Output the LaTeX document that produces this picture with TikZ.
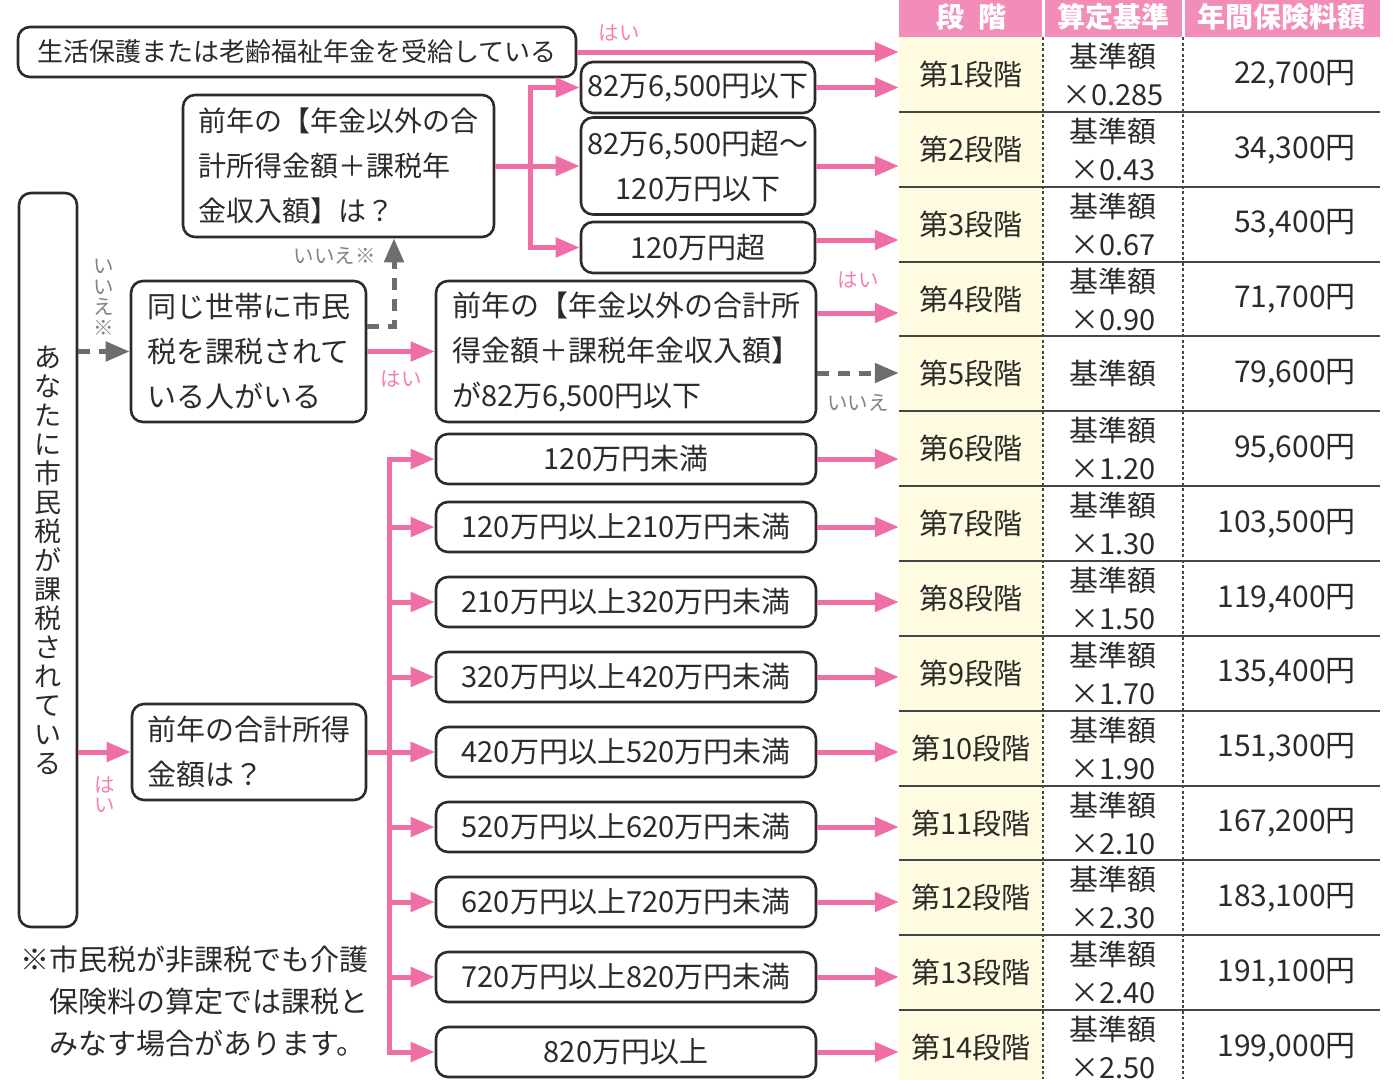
\documentclass[tikz,border=0pt]{standalone}
\usepackage{fontspec}
\setmainfont{Noto Sans CJK JP}
\usepackage{xcolor}
\usetikzlibrary{arrows.meta, positioning}
\definecolor{ink}{RGB}{45,42,42}
\definecolor{flowpink}{RGB}{238,110,165}
\definecolor{headpink}{RGB}{241,141,184}
\definecolor{labelpink}{RGB}{243,128,178}
\definecolor{flowgray}{RGB}{108,109,112}
\definecolor{labelgray}{RGB}{130,130,132}
\definecolor{stagebg}{RGB}{255,251,224}
\definecolor{rulegray}{RGB}{70,70,70}
\tikzset{
box/.style={draw=ink, line width=2.6pt, rounded corners=12pt, text=ink, inner sep=0pt, align=center, font=\fontsize{29}{45}\selectfont}, % rounded question boxes
yesarrow/.style={draw=flowpink, line width=5pt, -{Triangle[length=24pt,width=19pt]}}, % pink arrows
noarrow/.style={draw=flowgray, line width=5pt, dash pattern=on 12pt off 9pt, -{Triangle[length=24pt,width=19pt]}}, % gray dashed arrows
trunk/.style={draw=flowpink, line width=5pt, line cap=rect}, % vertical branch lines
yeslabel/.style={text=labelpink, font=\fontsize{20.5}{20.5}\selectfont, inner sep=0pt},
nolabel/.style={text=labelgray, font=\fontsize{20.5}{20.5}\selectfont, inner sep=0pt},
cell/.style={text=ink, font=\fontsize{29}{38}\selectfont, inner sep=0pt, align=center},
stage/.style={cell, fill=stagebg, minimum width=144pt, minimum height=74.85pt}, % yellow first column
headcell/.style={text=white, font=\fontsize{28}{28}\selectfont\bfseries, inner sep=0pt},
}
\begin{document}
\begin{tikzpicture}[x=1pt, y=-1pt]
    \useasboundingbox (0,0) rectangle (1397,1079);

    % table
    \fill[headpink] (899,0) rectangle (1380,37);
    \draw[white, line width=3pt] (1043,0) -- (1043,37) (1183,0) -- (1183,37);
    \node[headcell] (h1) at (971,17) {段\hspace{0.5em}階};
    \node[headcell] (h2) at (1113,17) {算定基準};
    \node[headcell] (h3) at (1281,17) {年間保険料額};
    \foreach \i/\r/\m in {1/{基準額\\×0.285}/{22,700円}, 2/{基準額\\×0.43}/{34,300円},
        3/{基準額\\×0.67}/{53,400円}, 4/{基準額\\×0.90}/{71,700円}, 5/{基準額}/{79,600円},
        6/{基準額\\×1.20}/{95,600円}, 7/{基準額\\×1.30}/{103,500円}, 8/{基準額\\×1.50}/{119,400円},
        9/{基準額\\×1.70}/{135,400円}, 10/{基準額\\×1.90}/{151,300円}, 11/{基準額\\×2.10}/{167,200円},
        12/{基準額\\×2.30}/{183,100円}, 13/{基準額\\×2.40}/{191,100円}, 14/{基準額\\×2.50}/{199,000円}} {
        \node[stage] (s\i) at (971,{37+(\i-0.5)*74.85}) {第\i{}段階};
        \node[cell] (r\i) at (1113,{37+(\i-0.5)*74.85}) {\r};
        \node[cell, anchor=east, font=\fontsize{30}{38}\selectfont] (m\i) at (1356,{37+(\i-0.5)*74.85}) {\m};
    }
    \foreach \i in {1,...,13}
        \draw[rulegray, line width=2pt] (899,{37+\i*74.85}) -- (1380,{37+\i*74.85});
    \draw[rulegray, line width=1.5pt, dash pattern=on 3pt off 2.5pt] (1043,37) -- (1043,1079) (1183,37) -- (1183,1079);

    % questions
    \node[box, minimum width=558pt, minimum height=50pt, font=\fontsize{26}{26}\selectfont] (top) at (297,52) {生活保護または老齢福祉年金を受給している};
    \node[box, minimum width=311pt, minimum height=142pt, align=left, font=\fontsize{28}{45}\selectfont] (q1) at (338.5,166) {前年の【年金以外の合\\計所得金額＋課税年\\金収入額】は？};
    \node[box, minimum width=234pt, minimum height=51pt] (a1) at (698,87.5) {82万6,500円以下};
    \node[box, minimum width=234pt, minimum height=97pt] (a2) at (698,166) {82万6,500円超～\\120万円以下};
    \node[box, minimum width=234pt, minimum height=51pt] (a3) at (698,247.5) {120万円超};
    \node[box, minimum width=58pt, minimum height=734pt, font=\fontsize{27}{29}\selectfont] (vbox) at (48,560) {あ\\な\\た\\に\\市\\民\\税\\が\\課\\税\\さ\\れ\\て\\い\\る};
    \node[box, minimum width=235pt, minimum height=141pt, align=left] (same) at (248.5,351.5) {同じ世帯に市民\\税を課税されて\\いる人がいる};
    \node[box, minimum width=380pt, minimum height=141pt, align=left] (q2) at (626,351.5) {前年の【年金以外の合計所\\得金額＋課税年金収入額】\\が82万6,500円以下};
    \node[box, minimum width=234pt, minimum height=96pt, align=left] (q3) at (249,752) {前年の合計所得\\金額は？};
    \node[text=ink, font=\fontsize{29}{42}\selectfont, align=left, anchor=west, inner sep=0pt] (note) at (20,1001) {※市民税が非課税でも介護\\\hspace*{1em}保険料の算定では課税と\\\hspace*{1em}みなす場合があります。};

    % upper branch
    \draw[yesarrow] (top) -- (top -| s1.west) node[yeslabel, pos=0.13, above=8pt] {はい};
    \coordinate (k1) at (530,166);
    \draw[trunk] (k1 |- a1) -- (k1 |- a3);
    \draw[yesarrow] (q1) -- (a2);
    \draw[yesarrow] (k1 |- a1) -- (a1);
    \draw[yesarrow] (k1 |- a3) -- (a3);
    \draw[yesarrow] (a1) -- (a1 -| s1.west);
    \draw[yesarrow] (a2) -- (a2 -| s2.west);
    \draw[yesarrow] ([yshift=7.5pt]a3.east) -- ([yshift=7.5pt]a3.east -| s3.west);

    \draw[noarrow] (vbox.east |- same) -- (same) node[nolabel, midway, above=14pt, align=center] {い\\い\\え\\※};
    \draw[noarrow] ([yshift=25.5pt]same.east) -| ([xshift=55.5pt]q1.south) node[nolabel, pos=0.9, left=16pt] {いいえ※};
    \draw[yesarrow] (same) -- (q2) node[yeslabel, midway, below=17pt] {はい};
    \draw[yesarrow] ([yshift=38.5pt]q2.east) -- ([yshift=38.5pt]q2.east -| s4.west) node[yeslabel, midway, above=22pt] {はい};
    \draw[noarrow] ([yshift=-21.5pt]q2.east) -- ([yshift=-21.5pt]q2.east -| s5.west) node[nolabel, midway, below=19pt] {いいえ};

    % lower branch
    \draw[yesarrow] (vbox.east |- q3) -- (q3) node[yeslabel, midway, below=22pt, align=center] {は\\い};
    \coordinate (k2) at (389,752);
    \foreach \i/\t/\y in {6/{120万円未満}/459, 7/{120万円以上210万円未満}/527, 8/{210万円以上320万円未満}/602,
        9/{320万円以上420万円未満}/677, 10/{420万円以上520万円未満}/752, 11/{520万円以上620万円未満}/827,
        12/{620万円以上720万円未満}/902, 13/{720万円以上820万円未満}/977, 14/{820万円以上}/1052} {
        \node[box, minimum width=380pt, minimum height=50pt] (b\i) at (626,\y) {\t};
        \draw[yesarrow] (k2 |- b\i) -- (b\i);
        \draw[yesarrow] (b\i) -- (b\i -| s\i.west);
    }
    \draw[trunk] (k2 |- b6) -- (k2 |- b14);
    \draw[yesarrow] (q3) -- (b10);
\end{tikzpicture}
\end{document}
